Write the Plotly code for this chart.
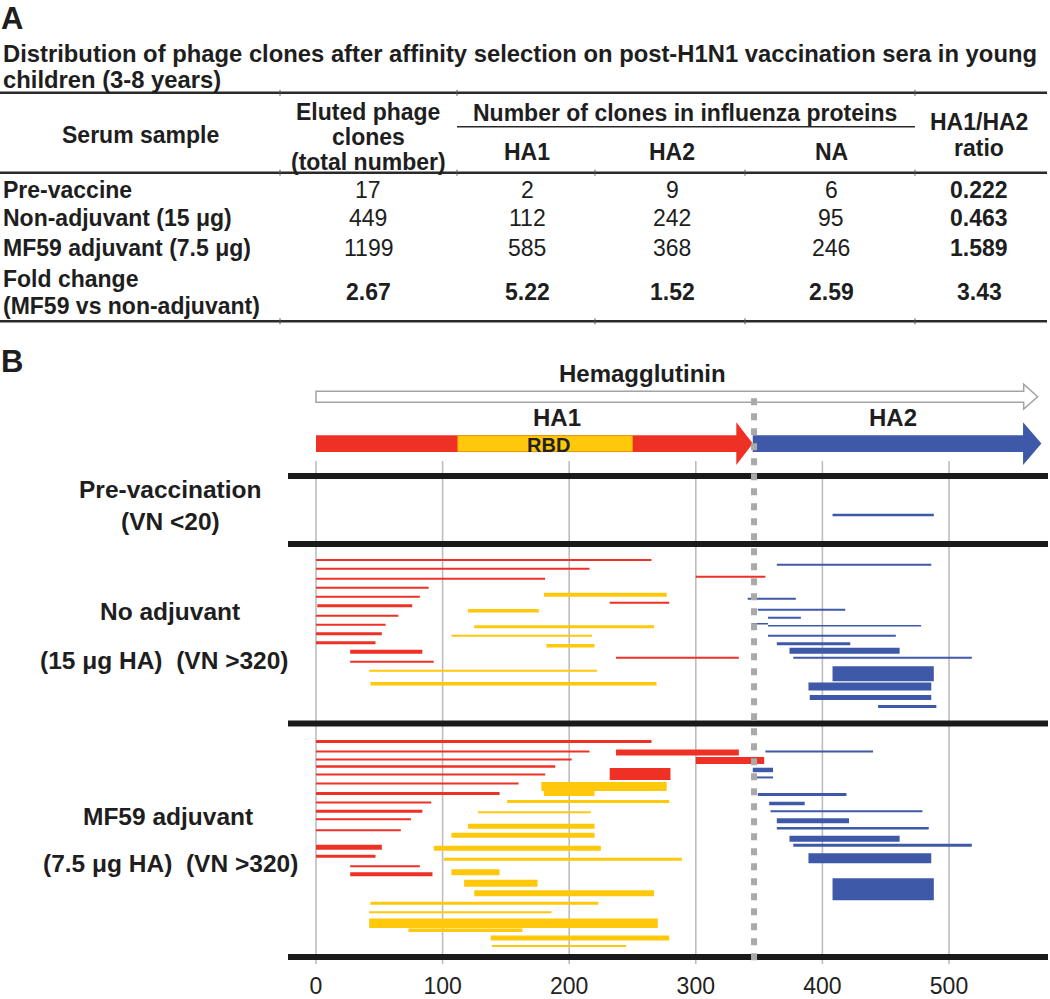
import plotly.graph_objects as go

W, H = 1050, 999
FONT = "Liberation Sans, Arial, Helvetica, sans-serif"
NARROW = "Liberation Sans Narrow, Arial Narrow, Liberation Sans, Arial, sans-serif"
RED = "#EE3124"
YELLOW = "#FFC80B"
BLUE = "#3D59A8"
BLACK = "#1A1A1A"

# ---------------- Panel A data (table) ----------------
row_labels = ["Pre-vaccine", "Non-adjuvant (15 \u03bcg)", "MF59 adjuvant (7.5 \u03bcg)",
              "Fold change<br>(MF59 vs non-adjuvant)"]
eluted = ["17", "449", "1199", "2.67"]
ha1_counts = ["2", "112", "585", "5.22"]
ha2_counts = ["9", "242", "368", "1.52"]
na_counts = ["6", "95", "246", "2.59"]
ratio = ["0.222", "0.463", "1.589", "3.43"]

# ---------------- Panel B data (epitope segments, residue positions) ----------------
ticks = [0, 100, 200, 300, 400, 500]
ha1_end, ha2_end = 345, 573
rbd_start, rbd_end = 112, 250
cleavage = 346

pre_blue_start = [408]
pre_blue_end = [488]
pre_blue_track = [516]
pre_blue_w = [2.5]

noadj_red_start = [0, 0, 0, 0, 0, 1, 0, 0, 0, 0, 27, 27, 232, 237, 300]
noadj_red_end = [265, 216, 181, 89, 82, 76, 65, 55, 52, 47, 84, 93, 279, 334, 355]
noadj_red_track = [561, 570, 580, 589, 598, 607, 617, 626, 635, 644, 653, 663, 604, 659, 578]
noadj_red_w = [2, 2, 2, 2, 2, 3, 2, 2, 3, 3, 4, 2, 2, 2, 2]

noadj_yel_start = [180, 120, 125, 107, 182, 42, 43]
noadj_yel_end = [277, 176, 267, 218, 220, 222, 269]
noadj_yel_track = [596, 612, 628, 637, 647, 672, 685]
noadj_yel_w = [4, 3.5, 3, 2, 3.5, 2, 3.5]

noadj_blue_start = [364, 341, 349, 357, 344, 357, 357, 364, 374, 377, 408, 389, 390, 444]
noadj_blue_end = [486, 379, 418, 383, 357, 478, 458, 422, 461, 518, 488, 486, 486, 490]
noadj_blue_track = [566, 600, 611, 619, 625, 627, 637, 645, 652, 659, 675, 688, 699, 708]
noadj_blue_w = [2, 2, 2, 2, 1.5, 1.5, 2, 3, 6, 2, 15, 8, 5, 3]

mf_red_start = [0, 0, 0, 0, 0, 0, 0, 0, 0, 0, 0, 0, 0, 27, 27, 237, 300, 232]
mf_red_end = [265, 216, 202, 189, 181, 160, 145, 91, 84, 75, 67, 52, 47, 82, 92, 334, 354, 280]
mf_red_track = [743, 753, 761, 768, 776, 785, 795, 804, 813, 821, 832, 849, 858, 868, 876, 754, 762, 775.5]
mf_red_w = [3, 2, 2, 2.5, 2, 2, 3, 2, 3, 2, 2, 5, 3, 2, 4, 6, 7, 12]

mf_yel_start = [178, 180, 151, 128, 120, 107, 93, 101, 107, 117, 125, 43, 42, 42, 73, 138, 139]
mf_yel_end = [277, 220, 279, 217, 220, 220, 225, 289, 145, 175, 267, 223, 186, 270, 163, 279, 245]
mf_yel_track = [788, 795, 803, 814, 828, 837, 850, 861, 874, 885, 895, 905, 914, 925, 932, 940, 948]
mf_yel_w = [9, 5, 3, 2, 5, 5, 5, 3, 6, 7, 6, 3, 2, 9.5, 3.5, 5, 2]

mf_blue_start = [355, 345, 344, 349, 358, 359, 364, 364, 374, 377, 389, 408]
mf_blue_end = [440, 361, 361, 419, 386, 479, 421, 484, 461, 518, 486, 488]
mf_blue_track = [753, 771.5, 779, 796, 805, 813, 822.5, 830, 840.5, 847, 860, 891]
mf_blue_w = [2, 4.5, 2, 3, 3.5, 2, 5, 2.5, 6, 3, 10, 22]

# ---------------- helpers ----------------
PX_PER_UNIT = 1.266
X0_PX = 316
Y_AXIS_BOTTOM = 968


def px(x):
    return x / W


def py(y):
    return 1 - y / H


fig = go.Figure()


def add_segments(starts, ends, tracks, widths, color):
    groups = {}
    for s, e, t, w in zip(starts, ends, tracks, widths):
        groups.setdefault(w, ([], []))
        xs, ys = groups[w]
        xs += [s, e, None]
        ys += [t, t, None]
    for w, (xs, ys) in groups.items():
        fig.add_trace(go.Scatter(x=xs, y=ys, mode="lines",
                                 line=dict(color=color, width=w),
                                 hoverinfo="skip", showlegend=False))


add_segments(noadj_red_start, noadj_red_end, noadj_red_track, noadj_red_w, RED)
add_segments(noadj_yel_start, noadj_yel_end, noadj_yel_track, noadj_yel_w, YELLOW)
add_segments(mf_red_start, mf_red_end, mf_red_track, mf_red_w, RED)
add_segments(mf_yel_start, mf_yel_end, mf_yel_track, mf_yel_w, YELLOW)
add_segments(pre_blue_start, pre_blue_end, pre_blue_track, pre_blue_w, BLUE)
add_segments(noadj_blue_start, noadj_blue_end, noadj_blue_track, noadj_blue_w, BLUE)
add_segments(mf_blue_start, mf_blue_end, mf_blue_track, mf_blue_w, BLUE)

shapes = []
# grid lines
for t in ticks:
    shapes.append(dict(type="line", xref="x", yref="y", x0=t, x1=t, y0=462, y1=966,
                       line=dict(color="#BDBDBD", width=1.6), layer="below"))
# black panel separators
for yy in [477, 545, 725, 959]:
    shapes.append(dict(type="line", xref="paper", yref="y", x0=px(288), x1=px(1048), y0=yy, y1=yy,
                       line=dict(color=BLACK, width=6)))
# hemagglutinin hollow arrow
hb = ha2_end - 14
shapes.append(dict(type="path", xref="x", yref="y",
                   path=f"M 0,392 L {hb},392 L {hb},385 L {ha2_end - 3},397.5 L {hb},410 L {hb},403 L 0,403 Z",
                   fillcolor="white", line=dict(color="#A3A3A3", width=1.5)))
# HA1 arrow
rb = ha1_end - 13
shapes.append(dict(type="path", xref="x", yref="y",
                   path=f"M 0,436 L {rb},436 L {rb},423 L {ha1_end},444.5 L {rb},466 L {rb},453 L 0,453 Z",
                   fillcolor=RED, line=dict(width=0)))
# RBD
shapes.append(dict(type="rect", xref="x", yref="y", x0=rbd_start, x1=rbd_end, y0=436.5, y1=452.5,
                   fillcolor=YELLOW, line=dict(color="#E79A10", width=1)))
# HA2 arrow
bb = ha2_end - 14.5
shapes.append(dict(type="path", xref="x", yref="y",
                   path=f"M {ha1_end},436 L {bb},436 L {bb},423 L {ha2_end},444.5 L {bb},466 L {bb},453 L {ha1_end},453 Z",
                   fillcolor=BLUE, line=dict(width=0)))
# cleavage dashed line
shapes.append(dict(type="line", xref="x", yref="y", x0=cleavage, x1=cleavage, y0=399, y1=968,
                   line=dict(color="#A9A9A9", width=6, dash="7px,8px"), layer="above"))

# ---------------- table rules ----------------
def hline(x0, x1, y, w, color="#2A2A2A"):
    shapes.append(dict(type="line", xref="paper", yref="paper", x0=px(x0), x1=px(x1),
                       y0=py(y), y1=py(y), line=dict(color=color, width=w)))


def vtick(x, y):
    shapes.append(dict(type="line", xref="paper", yref="paper", x0=px(x), x1=px(x),
                       y0=py(y - 3), y1=py(y + 3), line=dict(color="#555555", width=1)))


hline(0, 1047, 93, 2.5)
hline(457, 915, 127, 1.5)
hline(0, 1047, 173, 2.5)
hline(0, 1047, 322, 2.5)
for x in [280, 457, 915]:
    vtick(x, 93)
for x in [280, 457, 595, 745, 915]:
    vtick(x, 173)
for x in [280, 595, 745, 915]:
    vtick(x, 322)

ann = []


def text(t, x, y, size, bold=False, xanchor="center", family=FONT, color="#1E1E1E", yanchor="middle"):
    if bold:
        t = f"<b>{t}</b>"
    ann.append(dict(text=t, x=px(x), y=py(y), xref="paper", yref="paper", xanchor=xanchor,
                    yanchor=yanchor, showarrow=False, font=dict(family=family, size=size, color=color),
                    align="left" if xanchor == "left" else "center", borderpad=0))


# Panel letters
text("A", 0, 0, 31, True, "left", NARROW, yanchor="top")
text("B", 0, 362, 31, True, "left", NARROW)

# Table title
text("Distribution of phage clones after affinity selection on post-H1N1 vaccination sera in young",
     2, 54, 23.8, True, "left")
text("children (3-8 years)", 2, 80, 23.8, True, "left")

# header
TS = 23
text("Serum sample", 140, 135, TS, True)
text("Eluted phage", 368, 112, TS, True)
text("clones", 368, 137, TS, True)
text("(total number)", 368, 162, TS, True)
text("Number of clones in influenza proteins", 685, 113, TS, True)
text("HA1", 527, 152, TS, True)
text("HA2", 672, 152, TS, True)
text("NA", 831, 152, TS, True)
text("HA1/HA2", 979, 122, TS, True)
text("ratio", 979, 148, TS, True)

row_y = [190, 218, 248, 293]
col_x = [368, 527, 672, 831, 979]
for i, (lab, yv) in enumerate(zip(row_labels, row_y)):
    if i == 3:
        text("Fold change", 2, 280, TS, True, "left")
        text("(MF59 vs non-adjuvant)", 2, 307, TS, True, "left")
    else:
        text(lab, 2, yv, TS, True, "left")
    vals = [eluted[i], ha1_counts[i], ha2_counts[i], na_counts[i], ratio[i]]
    for j, (v, xv) in enumerate(zip(vals, col_x)):
        text(v, xv, yv, TS, bold=(i == 3 or j == 4))

# Panel B labels
text("Hemagglutinin", 642, 374, 24, True)
text("HA1", 557, 418, 24, True)
text("HA2", 893, 418, 24, True)
text("RBD", 548, 446, 20, True, color="#222222")

LS = 24.5
text("Pre-vaccination", 170, 490, LS, True)
text("(VN &lt;20)", 170, 523, LS, True)
text("No adjuvant", 170, 613, LS, True)
text("(15 \u03bcg HA)  (VN &gt;320)", 164, 662, LS, True)
text("MF59 adjuvant", 168, 818, LS, True)
text("(7.5 \u03bcg HA)  (VN &gt;320)", 170, 865, LS, True)

fig.update_layout(
    width=W, height=H, margin=dict(l=0, r=0, t=0, b=0),
    paper_bgcolor="white", plot_bgcolor="white", showlegend=False,
    shapes=shapes, annotations=ann,
    xaxis=dict(range=[-X0_PX / PX_PER_UNIT, (W - X0_PX) / PX_PER_UNIT], domain=[0, 1],
               tickvals=ticks, ticks="", showgrid=False, zeroline=False, showline=False,
               tickfont=dict(family=FONT, size=23, color="#222222"), fixedrange=True,
               ticklabelstandoff=4),
    yaxis=dict(range=[Y_AXIS_BOTTOM, 0], domain=[(H - Y_AXIS_BOTTOM) / H, 1], visible=False,
               fixedrange=True),
)

fig.write_html("out.html", config={"displayModeBar": False},
               post_script="document.body.style.margin='0px';document.body.style.overflow='hidden';")
